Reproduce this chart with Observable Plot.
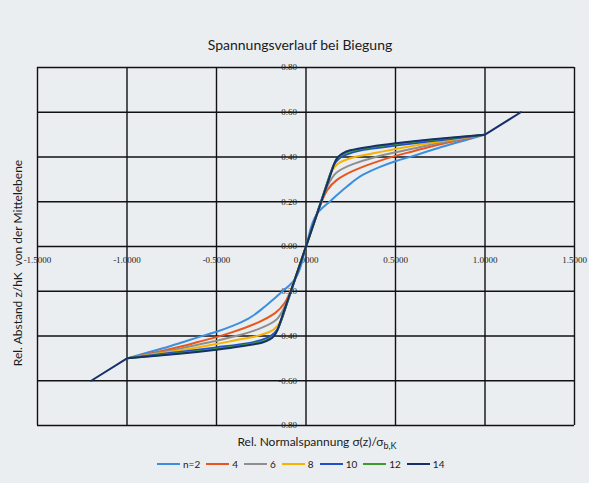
<!DOCTYPE html>
<html><head><meta charset="utf-8">
<script src="https://cdn.jsdelivr.net/npm/d3@7"></script>
<script src="https://cdn.jsdelivr.net/npm/@observablehq/plot@0.6"></script>
<style>
body{margin:0;background:#ebeef1;}
#wrap{position:relative;width:589px;height:483px;overflow:hidden;font-family:Lato,"Open Sans",sans-serif;color:#1a1a1a;background:#ebeef1}
#title{position:absolute;left:0;width:600px;top:36px;text-align:center;font-size:14px}
#xtitle{position:absolute;left:0;width:634px;top:434px;text-align:center;font-size:12px}
#ytitle{position:absolute;left:17px;top:263px;transform:translate(-50%,-50%) rotate(-90deg);white-space:pre;font-size:12px}
#legend{position:absolute;left:157px;top:458px;display:flex;gap:6px;font-size:10px;align-items:center}
.li{display:flex;align-items:center;gap:3px}
.sw{display:inline-block;width:23px;height:2px}
svg{position:absolute;left:0;top:0}
</style></head><body><div id="wrap">
<div id="title">Spannungsverlauf bei Biegung</div>
<div id="xtitle">Rel. Normalspannung σ(z)/σ<sub style="font-size:9px">b,K</sub></div>
<div id="ytitle">Rel. Abstand z/hK  von der Mittelebene</div>
<div id="legend"></div>
</div>
<script>
const xTicks = [-1.5, -1.0, -0.5, 0, 0.5, 1.0, 1.5];
const xTickLabels = ["-1.5000", "-1.0000", "-0.5000", "0.0000", "0.5000", "1.0000", "1.5000"];
const yTicks = [-0.8, -0.6, -0.4, -0.2, 0, 0.2, 0.4, 0.6, 0.8];
const yTickLabels = ["-0.80", "-0.60", "-0.40", "-0.20", "0.00", "0.20", "0.40", "0.60", "0.80"];
const seriesNames = ["n=2", "4", "6", "8", "10", "12", "14"];
const seriesColors = ["#3b8ee0", "#e8561e", "#8e8e8e", "#f5b300", "#1f4fc6", "#3e9a2b", "#17306b"];

const curveN2 = [[-1,-0.5],[-0.88,-0.473],[-0.8,-0.455],[-0.694,-0.429],[-0.6,-0.405],[-0.5,-0.381],[-0.41,-0.355],[-0.322,-0.322],[-0.229,-0.268],[-0.18,-0.235],[-0.132,-0.2],[-0.095,-0.175],[-0.061,-0.145],[0,0],[0.061,0.145],[0.095,0.175],[0.132,0.2],[0.18,0.235],[0.229,0.268],[0.322,0.322],[0.41,0.355],[0.5,0.381],[0.6,0.405],[0.694,0.429],[0.8,0.455],[0.88,0.473],[1,0.5]];
const curveN4 = [[-1,-0.5],[-0.88,-0.48],[-0.8,-0.466],[-0.694,-0.446],[-0.6,-0.426],[-0.5,-0.405],[-0.415,-0.384],[-0.266,-0.339],[-0.173,-0.298],[-0.117,-0.25],[-0.09,-0.205],[-0.07,-0.165],[0,0],[0.07,0.165],[0.09,0.205],[0.117,0.25],[0.173,0.298],[0.266,0.339],[0.415,0.384],[0.5,0.405],[0.6,0.426],[0.694,0.446],[0.8,0.466],[0.88,0.48],[1,0.5]];
const curveN6 = [[-1,-0.5],[-0.85,-0.478],[-0.694,-0.455],[-0.6,-0.438],[-0.5,-0.421],[-0.38,-0.398],[-0.266,-0.369],[-0.173,-0.332],[-0.14,-0.3],[-0.117,-0.265],[-0.105,-0.245],[-0.09,-0.21],[0,0],[0.09,0.21],[0.105,0.245],[0.117,0.265],[0.14,0.3],[0.173,0.332],[0.266,0.369],[0.38,0.398],[0.5,0.421],[0.6,0.438],[0.694,0.455],[0.85,0.478],[1,0.5]];
const curveN8 = [[-1,-0.5],[-0.85,-0.482],[-0.694,-0.463],[-0.5,-0.436],[-0.4,-0.42],[-0.285,-0.402],[-0.19,-0.376],[-0.16,-0.355],[-0.136,-0.325],[-0.125,-0.3],[-0.11,-0.26],[0,0],[0.11,0.26],[0.125,0.3],[0.136,0.325],[0.16,0.355],[0.19,0.376],[0.285,0.402],[0.4,0.42],[0.5,0.436],[0.694,0.463],[0.85,0.482],[1,0.5]];
const curveN10 = [[-1,-0.5],[-0.85,-0.485],[-0.694,-0.47],[-0.5,-0.451],[-0.322,-0.432],[-0.21,-0.406],[-0.175,-0.385],[-0.154,-0.362],[-0.14,-0.335],[-0.125,-0.3],[0,0],[0.125,0.3],[0.14,0.335],[0.154,0.362],[0.175,0.385],[0.21,0.406],[0.322,0.432],[0.5,0.451],[0.694,0.47],[0.85,0.485],[1,0.5]];
const curveN12 = [[-1,-0.5],[-0.85,-0.488],[-0.694,-0.476],[-0.5,-0.458],[-0.34,-0.44],[-0.229,-0.421],[-0.19,-0.405],[-0.164,-0.38],[-0.148,-0.35],[-0.135,-0.32],[0,0],[0.135,0.32],[0.148,0.35],[0.164,0.38],[0.19,0.405],[0.229,0.421],[0.34,0.44],[0.5,0.458],[0.694,0.476],[0.85,0.488],[1,0.5]];
const curveN14 = [[-1,-0.5],[-0.85,-0.489],[-0.694,-0.478],[-0.5,-0.461],[-0.36,-0.446],[-0.247,-0.43],[-0.2,-0.414],[-0.177,-0.398],[-0.158,-0.37],[-0.145,-0.34],[0,0],[0.145,0.34],[0.158,0.37],[0.177,0.398],[0.2,0.414],[0.247,0.43],[0.36,0.446],[0.5,0.461],[0.694,0.478],[0.85,0.489],[1,0.5]];
const tailUpper = [[1,0.5],[1.2,0.6]];
const tailLower = [[-1.2,-0.6],[-1,-0.5]];

const curves = [curveN2, curveN4, curveN6, curveN8, curveN10, curveN12, curveN14];
const rows = [];
curves.forEach((c, i) => c.forEach(([x, y]) => rows.push({x, y, s: seriesNames[i]})));
const tails = [];
tailUpper.forEach(([x, y]) => tails.push({x, y, s: "u"}));
tailLower.forEach(([x, y]) => tails.push({x, y, s: "l"}));

const chart = Plot.plot({
  width: 589, height: 483,
  marginLeft: 37, marginRight: 15, marginTop: 67, marginBottom: 58,
  style: {background: "transparent", overflow: "visible"},
  x: {domain: [-1.5, 1.5], axis: null},
  y: {domain: [-0.8, 0.8], axis: null},
  color: {domain: seriesNames, range: seriesColors},
  marks: [
    Plot.ruleX(xTicks, {stroke: "#111", strokeWidth: 1.4}),
    Plot.ruleY(yTicks, {stroke: "#111", strokeWidth: 1.4}),
    Plot.text(xTicks, {x: d => d, y: 0, text: (d, i) => xTickLabels[i], dy: 14, fontFamily: "Liberation Serif", fontSize: 9, fill: "#222"}),
    Plot.text(yTicks, {x: 0, y: d => d, text: (d, i) => yTickLabels[i], textAnchor: "end", dx: -9, fontFamily: "Liberation Serif", fontSize: 9, fill: "#222"}),
    Plot.line(rows, {x: "x", y: "y", z: "s", stroke: "s", strokeWidth: 2, curve: "monotone-y"}),
    Plot.line(tails, {x: "x", y: "y", z: "s", stroke: seriesColors[6], strokeWidth: 2})
  ]
});
document.getElementById("wrap").appendChild(chart);

const lg = document.getElementById("legend");
seriesNames.forEach((n, i) => {
  const d = document.createElement("div");
  d.className = "li";
  d.innerHTML = `<span class="sw" style="background:${seriesColors[i]}"></span><span>${n}</span>`;
  lg.appendChild(d);
});
</script></body></html>
